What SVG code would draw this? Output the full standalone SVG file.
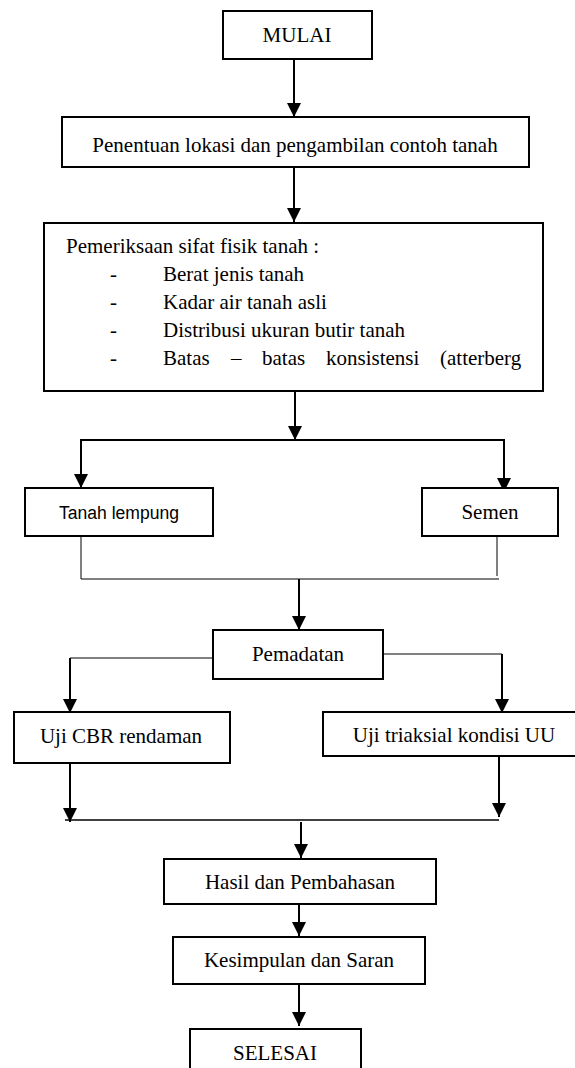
<svg xmlns="http://www.w3.org/2000/svg" width="575" height="1068" viewBox="0 0 575 1068">
<style>
.box{fill:#fff;stroke:#000;stroke-width:2}
.t{font-family:"Liberation Serif","Times New Roman",serif;font-size:21px;fill:#000}
.c{text-anchor:middle}
.s{font-family:"Liberation Sans",Arial,sans-serif;font-size:18px;fill:#000}
.a{fill:none;stroke:#000;stroke-width:2}
.thin{fill:none;stroke:#000;stroke-width:1}
</style>
<defs>
<marker id="ah" markerUnits="userSpaceOnUse" markerWidth="14" markerHeight="14" refX="14" refY="7" orient="auto">
<path d="M0,0 L14,7 L0,14 z" fill="#000"/>
</marker>
</defs>
<rect width="575" height="1068" fill="#fff"/>
<g id="connectors">
<line class="a" x1="294" y1="59" x2="294" y2="117" marker-end="url(#ah)"/>
<line class="a" x1="294" y1="167" x2="294" y2="222" marker-end="url(#ah)"/>
<line class="a" x1="295" y1="391" x2="295" y2="440" marker-end="url(#ah)"/>
<line class="a" x1="80" y1="440" x2="505" y2="440"/>
<line class="a" x1="81" y1="440" x2="81" y2="488" marker-end="url(#ah)"/>
<line class="a" x1="504" y1="440" x2="504" y2="492" marker-end="url(#ah)"/>
<polyline class="thin" points="81,536 81,579 499,579"/>
<line class="thin" x1="497" y1="536" x2="497" y2="576"/>
<line class="a" x1="299" y1="579" x2="299" y2="630" marker-end="url(#ah)"/>
<polyline class="thin" points="213,658 70,658"/>
<line class="a" x1="70" y1="658" x2="70" y2="713" marker-end="url(#ah)"/>
<polyline class="thin" points="383,654 502,654"/>
<line class="a" x1="502" y1="654" x2="502" y2="713" marker-end="url(#ah)"/>
<line class="a" x1="70" y1="763" x2="70" y2="822" marker-end="url(#ah)"/>
<line class="a" x1="499" y1="757" x2="499" y2="817" marker-end="url(#ah)"/>
<line class="a" x1="65" y1="820" x2="499" y2="820" style="stroke-width:1.5"/>
<line class="a" x1="301" y1="822" x2="301" y2="858" marker-end="url(#ah)"/>
<line class="a" x1="299" y1="904" x2="299" y2="936" marker-end="url(#ah)"/>
<line class="a" x1="299" y1="985" x2="299" y2="1026" marker-end="url(#ah)"/>
</g>
<g id="mulai">
<rect class="box" x="223" y="11" width="149" height="48"/>
<text class="t c" x="297" y="42">MULAI</text>
</g>
<g id="penentuan">
<rect class="box" x="62" y="117" width="467" height="50"/>
<text class="t c" x="295" y="152">Penentuan lokasi dan pengambilan contoh tanah</text>
</g>
<g id="pemeriksaan">
<rect class="box" x="44" y="223" width="499" height="168"/>
<text class="t" x="66" y="253">Pemeriksaan sifat fisik tanah :</text>
<text class="t" x="110" y="281">-</text>
<text class="t" x="163" y="281">Berat jenis tanah</text>
<text class="t" x="110" y="309">-</text>
<text class="t" x="163" y="309">Kadar air tanah asli</text>
<text class="t" x="110" y="337">-</text>
<text class="t" x="163" y="337">Distribusi ukuran butir tanah</text>
<text class="t" x="110" y="365">-</text>
<text class="t" y="365"><tspan x="163">Batas</tspan><tspan x="231">–</tspan><tspan x="262">batas</tspan><tspan x="326">konsistensi</tspan><tspan x="440">(atterberg</tspan></text>
</g>
<g id="tanah-lempung">
<rect class="box" x="25" y="488" width="188" height="48"/>
<text class="s c" x="119" y="519" textLength="120" lengthAdjust="spacingAndGlyphs">Tanah lempung</text>
</g>
<g id="semen">
<rect class="box" x="422" y="488" width="136" height="48"/>
<text class="t c" x="490" y="519">Semen</text>
</g>
<g id="pemadatan">
<rect class="box" x="213" y="630" width="170" height="49"/>
<text class="t c" x="298" y="661">Pemadatan</text>
</g>
<g id="uji-cbr">
<rect class="box" x="14" y="712" width="216" height="51"/>
<text class="t c" x="121" y="743">Uji CBR rendaman</text>
</g>
<g id="uji-triaksial">
<rect class="box" x="323" y="712" width="262" height="44"/>
<text class="t c" x="454" y="742">Uji triaksial kondisi UU</text>
</g>
<g id="hasil">
<rect class="box" x="164" y="859" width="272" height="45"/>
<text class="t c" x="300" y="889">Hasil dan Pembahasan</text>
</g>
<g id="kesimpulan">
<rect class="box" x="173" y="937" width="252" height="47"/>
<text class="t c" x="299" y="967">Kesimpulan dan Saran</text>
</g>
<g id="selesai">
<rect class="box" x="190" y="1029" width="171" height="60"/>
<text class="t c" x="275" y="1060">SELESAI</text>
</g>
</svg>
